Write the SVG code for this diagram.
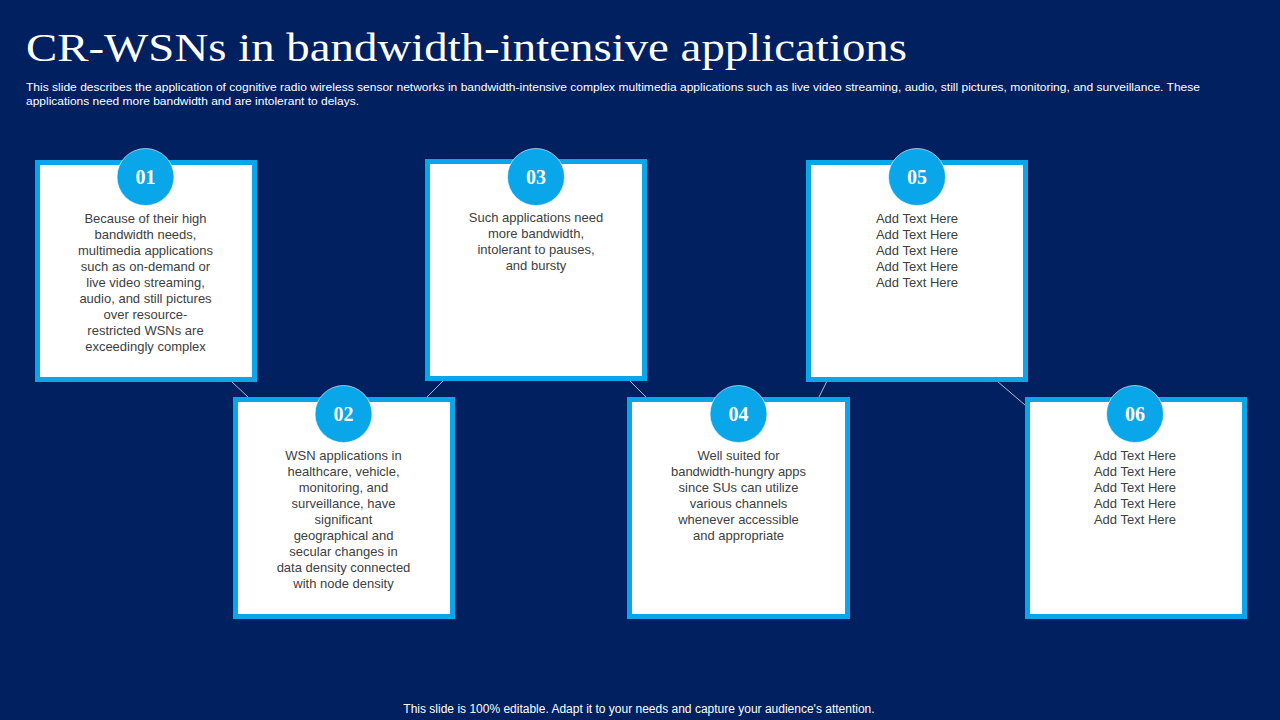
<svg xmlns="http://www.w3.org/2000/svg" width="1280" height="720" viewBox="0 0 1280 720">
<style>
.bg{fill:#002060}
.box rect{fill:#ffffff;stroke:#0AA6EA;stroke-width:5}
.box circle{fill:#0AA6EA;stroke:#ffffff;stroke-width:0.6}
.num{font-family:"Liberation Serif",serif;font-weight:bold;font-size:20px;fill:#ffffff;text-anchor:middle}
.body{font-family:"Liberation Sans",Arial,sans-serif;font-size:13px;fill:#404040;text-anchor:middle}
.conn line{stroke:#A9BCE0;stroke-width:1}
.title{font-family:"Liberation Serif",serif;font-size:40px;fill:#ffffff}
.sub{font-family:"Liberation Sans",Arial,sans-serif;font-size:11.5px;fill:#ffffff}
.foot{font-family:"Liberation Sans",Arial,sans-serif;font-size:12px;fill:#ffffff;text-anchor:middle}
</style>
<rect class="bg" x="0" y="0" width="1280" height="720"/>
<text class="title" x="26" y="61" textLength="881" lengthAdjust="spacingAndGlyphs">CR-WSNs in bandwidth-intensive applications</text>
<text class="sub" x="26" y="91" textLength="1174" lengthAdjust="spacingAndGlyphs">This slide describes the application of cognitive radio wireless sensor networks in bandwidth-intensive complex multimedia applications such as live video streaming, audio, still pictures, monitoring, and surveillance. These</text>
<text class="sub" x="26" y="105" textLength="333" lengthAdjust="spacingAndGlyphs">applications need more bandwidth and are intolerant to delays.</text>

<g class="conn" id="connectors">
<line x1="231" y1="381" x2="248" y2="397"/>
<line x1="427" y1="397" x2="443" y2="381"/>
<line x1="630" y1="381" x2="646" y2="397"/>
<line x1="819" y1="397" x2="827" y2="381"/>
<line x1="997" y1="381" x2="1025" y2="405"/>
</g>

<g class="box" id="node-01">
<rect x="37.5" y="162.5" width="217" height="217"/>
<circle cx="145.5" cy="177" r="28.5"/>
<text class="num" x="145.5" y="184">01</text>
<text class="body" x="145.5" y="222.5">Because of their high</text>
<text class="body" x="145.5" y="238.5">bandwidth needs,</text>
<text class="body" x="145.5" y="254.5">multimedia applications</text>
<text class="body" x="145.5" y="270.5">such as on-demand or</text>
<text class="body" x="145.5" y="286.5">live video streaming,</text>
<text class="body" x="145.5" y="302.5">audio, and still pictures</text>
<text class="body" x="145.5" y="318.5">over resource-</text>
<text class="body" x="145.5" y="334.5">restricted WSNs are</text>
<text class="body" x="145.5" y="350.5">exceedingly complex</text>
</g>

<g class="box" id="node-02">
<rect x="235.5" y="399.5" width="217" height="217"/>
<circle cx="343.5" cy="414" r="28.5"/>
<text class="num" x="343.5" y="421">02</text>
<text class="body" x="343.5" y="459.5">WSN applications in</text>
<text class="body" x="343.5" y="475.5">healthcare, vehicle,</text>
<text class="body" x="343.5" y="491.5">monitoring, and</text>
<text class="body" x="343.5" y="507.5">surveillance, have</text>
<text class="body" x="343.5" y="523.5">significant</text>
<text class="body" x="343.5" y="539.5">geographical and</text>
<text class="body" x="343.5" y="555.5">secular changes in</text>
<text class="body" x="343.5" y="571.5">data density connected</text>
<text class="body" x="343.5" y="587.5">with node density</text>
</g>

<g class="box" id="node-03">
<rect x="427.5" y="161.5" width="217" height="217"/>
<circle cx="536" cy="177" r="28.5"/>
<text class="num" x="536" y="184">03</text>
<text class="body" x="536" y="221.5">Such applications need</text>
<text class="body" x="536" y="237.5">more bandwidth,</text>
<text class="body" x="536" y="253.5">intolerant to pauses,</text>
<text class="body" x="536" y="269.5">and bursty</text>
</g>

<g class="box" id="node-04">
<rect x="629.5" y="399.5" width="218" height="217"/>
<circle cx="738.5" cy="414" r="28.5"/>
<text class="num" x="738.5" y="421">04</text>
<text class="body" x="738.5" y="459.5">Well suited for</text>
<text class="body" x="738.5" y="475.5">bandwidth-hungry apps</text>
<text class="body" x="738.5" y="491.5">since SUs can utilize</text>
<text class="body" x="738.5" y="507.5">various channels</text>
<text class="body" x="738.5" y="523.5">whenever accessible</text>
<text class="body" x="738.5" y="539.5">and appropriate</text>
</g>

<g class="box" id="node-05">
<rect x="808.5" y="162.5" width="217" height="217"/>
<circle cx="917" cy="177" r="28.5"/>
<text class="num" x="917" y="184">05</text>
<text class="body" x="917" y="222.5">Add Text Here</text>
<text class="body" x="917" y="238.5">Add Text Here</text>
<text class="body" x="917" y="254.5">Add Text Here</text>
<text class="body" x="917" y="270.5">Add Text Here</text>
<text class="body" x="917" y="286.5">Add Text Here</text>
</g>

<g class="box" id="node-06">
<rect x="1027.5" y="399.5" width="217" height="217"/>
<circle cx="1135" cy="414" r="28.5"/>
<text class="num" x="1135" y="421">06</text>
<text class="body" x="1135" y="459.5">Add Text Here</text>
<text class="body" x="1135" y="475.5">Add Text Here</text>
<text class="body" x="1135" y="491.5">Add Text Here</text>
<text class="body" x="1135" y="507.5">Add Text Here</text>
<text class="body" x="1135" y="523.5">Add Text Here</text>
</g>

<text class="foot" x="639" y="713">This slide is 100% editable. Adapt it to your needs and capture your audience's attention.</text>
</svg>
